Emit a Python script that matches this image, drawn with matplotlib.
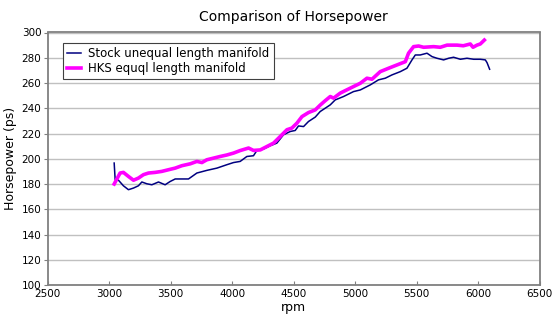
import numpy as np
import matplotlib
matplotlib.use("Agg")
import matplotlib.pyplot as plt

# dyno runs, rpm vs horsepower (ps)
stock_rpm = [3041, 3049, 3076, 3116, 3157, 3198, 3238, 3266, 3306, 3347, 3401, 3455,
             3496, 3537, 3591, 3645, 3713, 3794, 3876, 3957, 4011, 4065, 4119, 4173,
             4201, 4254, 4309, 4363, 4417, 4472, 4512, 4539, 4580, 4620, 4675, 4715,
             4797, 4837, 4905, 4986, 5041, 5122, 5189, 5244, 5298, 5366, 5420, 5461,
             5488, 5528, 5583, 5624, 5664, 5718, 5759, 5799, 5854, 5908, 5962, 6016,
             6057, 6071, 6092]
stock_hp = [196.6, 183.4, 183.0, 178.6, 175.5, 176.8, 178.6, 181.6, 180.2, 179.4, 181.6, 179.4,
            182.0, 184.0, 184.0, 184.0, 188.7, 190.8, 192.6, 195.3, 197.0, 197.9, 201.8, 202.4,
            206.6, 207.7, 210.3, 212.4, 219.0, 221.6, 222.4, 226.0, 225.5, 229.5, 233.0, 237.4,
            242.7, 246.6, 249.3, 253.2, 254.5, 258.5, 262.5, 263.8, 266.4, 269.0, 271.7, 278.3,
            282.2, 282.2, 283.6, 280.9, 279.6, 278.3, 279.6, 280.4, 278.8, 279.6, 278.8, 278.8,
            278.3, 276.1, 270.9]

hks_rpm = [3041, 3089, 3116, 3157, 3198, 3238, 3279, 3320, 3374, 3428, 3482, 3537,
           3591, 3659, 3713, 3754, 3794, 3848, 3902, 3957, 4011, 4065, 4133, 4173,
           4228, 4282, 4336, 4390, 4445, 4485, 4526, 4567, 4620, 4675, 4715, 4756,
           4797, 4824, 4878, 4959, 5041, 5095, 5136, 5203, 5271, 5339, 5407, 5433,
           5474, 5515, 5555, 5637, 5691, 5746, 5827, 5878, 5935, 5957, 5989, 6016,
           6049]
hks_hp = [180.0, 188.7, 189.2, 186.0, 183.0, 184.7, 187.4, 188.7, 189.2, 190.0, 191.3, 192.6,
          194.5, 196.0, 197.9, 197.0, 199.2, 200.5, 201.8, 203.0, 204.5, 206.5, 208.5, 206.6,
          207.0, 209.7, 212.4, 217.6, 223.0, 224.3, 228.2, 233.4, 236.6, 238.7, 242.5, 246.0,
          249.3, 248.0, 252.0, 255.9, 259.8, 263.8, 263.0, 269.0, 271.7, 274.3, 276.9, 283.6,
          288.8, 289.3, 288.3, 288.8, 288.3, 290.0, 290.0, 289.5, 290.9, 288.3, 290.0, 290.9,
          294.0]

fig = plt.figure(figsize=(5.6, 3.25), dpi=100)
ax = fig.add_axes([0.085, 0.123, 0.879, 0.777])

ax.plot(stock_rpm, stock_hp, color="#000080", lw=1.1, label="Stock unequal length manifold")
ax.plot(hks_rpm, hks_hp, color="#ff00ff", lw=2.6, label="HKS equql length manifold")

ax.set_xlim(2500, 6500)
ax.set_ylim(100, 300)
ax.set_xticks(np.arange(2500, 6501, 500))
ax.set_yticks(np.arange(100, 301, 20))
ax.yaxis.grid(True, color="#c0c0c0", lw=1)
ax.set_axisbelow(True)
for s in ax.spines.values():
    s.set_color("#808080")
    s.set_linewidth(1.3)
ax.tick_params(labelsize=7.5, length=3, color="#808080", pad=1.5)
ax.tick_params(axis="x", direction="in", pad=3)

ax.set_title("Comparison of Horsepower", fontsize=10, pad=8)
ax.set_xlabel("rpm", fontsize=9, labelpad=1)
ax.set_ylabel("Horsepower (ps)", fontsize=9, labelpad=3)

leg = ax.legend(loc="upper left", bbox_to_anchor=(0.031, 0.958), fontsize=8.5,
                fancybox=False, framealpha=1, edgecolor="#404040",
                handlelength=1.2, handletextpad=0.6, borderpad=0.35,
                labelspacing=0.15, borderaxespad=0)
leg.get_frame().set_linewidth(0.8)

fig.savefig("out.png", dpi=100)
